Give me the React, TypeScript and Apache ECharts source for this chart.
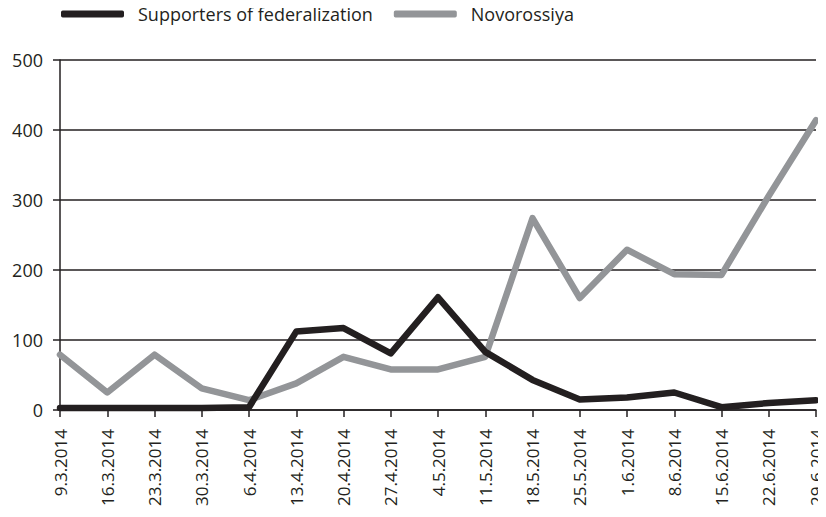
import React, { useEffect, useRef } from "react";
import * as echarts from "echarts";

const categories = [
  "9.3.2014", "16.3.2014", "23.3.2014", "30.3.2014", "6.4.2014", "13.4.2014",
  "20.4.2014", "27.4.2014", "4.5.2014", "11.5.2014", "18.5.2014", "25.5.2014",
  "1.6.2014", "8.6.2014", "15.6.2014", "22.6.2014", "29.6.2014",
];
const supporters = [3, 3, 3, 3, 4, 112, 117, 81, 161, 83, 43, 15, 18, 25, 4, 10, 14];
const novorossiya = [79, 25, 79, 31, 14, 38, 76, 58, 58, 76, 274, 160, 229, 194, 193, 306, 414];
const yTicks = { min: 0, max: 500, interval: 100 };

const FONT = "'Open Sans', 'Noto Sans', sans-serif";
const BLACK = "#231f20";
const GRAY = "#939598";

export default function App() {
  const ref = useRef<HTMLDivElement>(null);
  useEffect(() => {
    if (!ref.current) return;
    const chart = echarts.init(ref.current, undefined, { renderer: "svg" });
    chart.setOption({
      animation: false,
      backgroundColor: "#ffffff",
      textStyle: { fontFamily: FONT, color: BLACK },
      legend: {
        left: 61,
        top: 5,
        padding: 0,
        itemWidth: 63,
        itemHeight: 7,
        itemGap: 21,
        icon: "roundRect",
        textStyle: { fontFamily: FONT, fontSize: 18, color: BLACK, padding: [0, 0, 0, 9] },
        data: ["Supporters of federalization", "Novorossiya"],
      },
      grid: { left: 60, right: 10, top: 60, bottom: 99, containLabel: false },
      xAxis: {
        type: "category",
        data: categories,
        boundaryGap: false,
        axisLine: { show: true, lineStyle: { color: BLACK, width: 1.5 } },
        axisTick: { show: true, length: 7, lineStyle: { color: BLACK, width: 1.5 } },
        axisLabel: {
          rotate: 90,
          margin: 19,
          fontSize: 17,
          lineHeight: 14,
          color: BLACK,
          fontFamily: FONT,
          interval: 0,
        },
        splitLine: { show: false },
      },
      yAxis: {
        type: "value",
        min: yTicks.min,
        max: yTicks.max,
        interval: yTicks.interval,
        axisLine: { show: true, lineStyle: { color: BLACK, width: 1.5 } },
        axisTick: { show: true, length: 7, lineStyle: { color: BLACK, width: 1.5 } },
        axisLabel: { margin: 17, fontSize: 18, color: BLACK, fontFamily: FONT },
        splitLine: { show: true, lineStyle: { color: BLACK, width: 1.5 } },
      },
      series: [
        {
          name: "Supporters of federalization",
          type: "line",
          data: supporters,
          showSymbol: false,
          symbol: "none",
          z: 3,
          itemStyle: { color: BLACK },
          lineStyle: { color: BLACK, width: 6.5, cap: "round", join: "round" },
        },
        {
          name: "Novorossiya",
          type: "line",
          data: novorossiya,
          showSymbol: false,
          symbol: "none",
          z: 2,
          itemStyle: { color: GRAY },
          lineStyle: { color: GRAY, width: 6.5, cap: "round", join: "round" },
        },
      ],
    });
    return () => chart.dispose();
  }, []);
  return <div ref={ref} style={{ width: 826, height: 509, marginTop: -8, marginLeft: -8 }} />;
}
